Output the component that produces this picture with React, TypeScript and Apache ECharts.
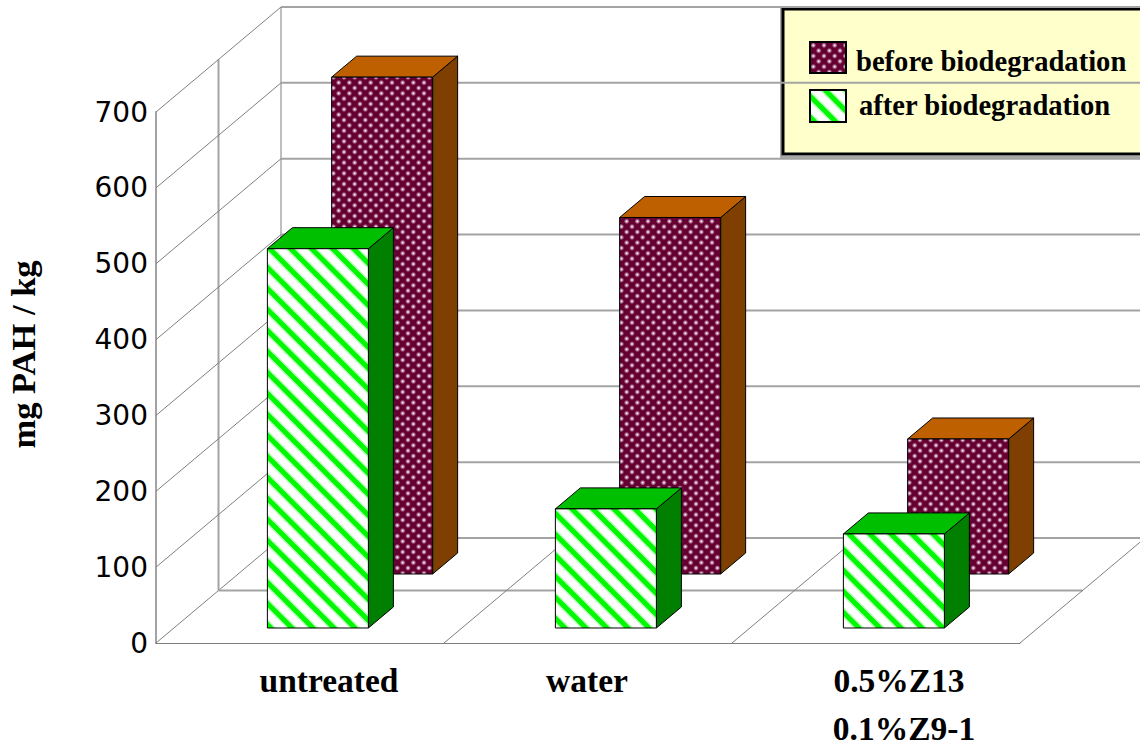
import React, { useEffect, useRef } from "react";
import * as echarts from "echarts";

const categories = ["untreated", "water", "0.5%Z13\n0.1%Z9-1"];
const beforeValues = [655, 470, 178];
const afterValues = [500, 157, 124];
const yTicks = [0, 100, 200, 300, 400, 500, 600, 700];
const seriesNames = ["before biodegradation", "after biodegradation"];

// Receding direction of the pseudo-3D box, in pixels for its full depth.
const DEPTH_X = 125;
const DEPTH_Y = 105;
const SIDE_X = 25;
const SIDE_Y = 21;
const BAR_WIDTH = 101;
const BEFORE_DEPTH = 0.657;
const AFTER_DEPTH = 0.143;
const PLOT_WIDTH = 864;
const CANVAS_WIDTH = 1140;

const FONT_SERIF = "'Liberation Serif', 'Times New Roman', serif";
const GRID_THICK = "#a3a3a3";
const GRID_THIN = "#7f7f7f";

function dottedTile() {
  const size = 32;
  const c = document.createElement("canvas");
  c.width = c.height = size;
  const ctx = c.getContext("2d")!;
  ctx.fillStyle = "#660033";
  ctx.fillRect(0, 0, size, size);
  const step = size / 6;
  for (let row = -1; row <= 6; row++) {
    for (let col = -1; col <= 6; col++) {
      if ((row + col) % 2 !== 0) continue;
      const x = col * step + step / 2;
      const y = row * step + step / 2;
      const g = ctx.createRadialGradient(x, y, 0.2, x, y, 2.7);
      g.addColorStop(0, "rgba(255,255,255,0.95)");
      g.addColorStop(0.45, "rgba(225,185,212,0.7)");
      g.addColorStop(1, "rgba(255,255,255,0)");
      ctx.fillStyle = g;
      ctx.fillRect(x - 3, y - 3, 6, 6);
    }
  }
  return { image: c, repeat: "repeat", imageWidth: size, imageHeight: size };
}

function stripedTile() {
  const size = 21;
  const c = document.createElement("canvas");
  c.width = c.height = size;
  const ctx = c.getContext("2d")!;
  ctx.fillStyle = "#ffffff";
  ctx.fillRect(0, 0, size, size);
  const stripe = (color: string, width: number) => {
    ctx.strokeStyle = color;
    ctx.lineWidth = width;
    // Each stroke overruns the tile so the diagonals join up across tile edges.
    for (let x0 = -size * 2; x0 <= size * 2; x0 += size) {
      ctx.beginPath();
      ctx.moveTo(x0 - size, -size);
      ctx.lineTo(x0 + size * 2, size * 2);
      ctx.stroke();
    }
  };
  stripe("#c4ffc4", 8);
  stripe("#00f800", 5);
  return { image: c, repeat: "repeat", imageWidth: size, imageHeight: size };
}

function barItem(
  api: any,
  depth: number,
  front: any,
  topColor: string,
  sideColor: string
) {
  const [cx, yTop] = api.coord([api.value(0), api.value(1)]);
  const yBase = api.coord([api.value(0), 0])[1];
  const left = cx + depth * DEPTH_X - BAR_WIDTH / 2;
  const right = left + BAR_WIDTH;
  const shift = depth * DEPTH_Y;
  const top = yTop - shift;
  const bottom = yBase - shift;
  const edge = { stroke: "#000000", lineWidth: 1 };
  return {
    type: "group",
    children: [
      {
        type: "polygon",
        shape: { points: [[right, top], [right + SIDE_X, top - SIDE_Y], [right + SIDE_X, bottom - SIDE_Y], [right, bottom]] },
        style: { fill: sideColor, ...edge },
      },
      {
        type: "polygon",
        shape: { points: [[left, top], [left + SIDE_X, top - SIDE_Y], [right + SIDE_X, top - SIDE_Y], [right, top]] },
        style: { fill: topColor, ...edge },
      },
      {
        type: "rect",
        shape: { x: left, y: top, width: BAR_WIDTH, height: bottom - top },
        style: { fill: front, ...edge },
      },
    ],
  };
}

function line(x1: number, y1: number, x2: number, y2: number, stroke: string, lineWidth: number) {
  return { type: "line", shape: { x1, y1, x2, y2 }, style: { stroke, lineWidth } };
}

// One tick draws its left-wall diagonal and back-wall rule; the first also draws the box frame.
function wallItem(params: any, api: any) {
  const [x0, y] = api.coord([0, api.value(0)]);
  const left = x0 - api.size([1, 0])[0] / 2;
  const children: any[] = [
    line(left, y, left + DEPTH_X, y - DEPTH_Y, GRID_THIN, 1),
    line(left + DEPTH_X, y - DEPTH_Y, CANVAS_WIDTH, y - DEPTH_Y, GRID_THICK, 2),
  ];
  if (params.dataIndex === 0) {
    const topY = api.coord([0, yTicks[yTicks.length - 1]])[1];
    const band = PLOT_WIDTH / categories.length;
    const midX = left + DEPTH_X / 2;
    const midY = y - DEPTH_Y / 2;
    children.push(line(left + DEPTH_X, y - DEPTH_Y, left + DEPTH_X, topY - DEPTH_Y, GRID_THIN, 1));
    children.push(line(midX, midY, midX, topY - DEPTH_Y / 2, GRID_THICK, 2));
    children.push(line(midX, midY, midX + PLOT_WIDTH, midY, GRID_THICK, 2));
    for (let i = 1; i <= categories.length; i++) {
      children.push(line(left + i * band, y, left + i * band + DEPTH_X, y - DEPTH_Y, GRID_THIN, 1));
    }
  }
  return { type: "group", children };
}

// Left padding of each category label line, which moves the centred text to the right.
const labelShift = [[58], [-2], [46, 56]];

export default function App() {
  const ref = useRef<HTMLDivElement>(null);

  useEffect(() => {
    document.body.style.margin = "0";
    const chart = echarts.init(ref.current!, null, { renderer: "svg" });
    const dots = dottedTile();
    const stripes = stripedTile();

    const richStyles: any = {};
    labelShift.forEach((pads, i) => {
      pads.forEach((pad, k) => {
        richStyles[`c${i}l${k}`] = {
          fontFamily: FONT_SERIF,
          fontWeight: "bold",
          fontSize: 33.5,
          // The second line gets a tight box so it stays inside the page.
          lineHeight: k === 0 ? 63 : 32,
          color: "#000000",
          padding: pad >= 0 ? [0, 0, 0, pad] : [0, -pad, 0, 0],
        };
      });
    });

    chart.setOption({
      animation: false,
      backgroundColor: "#ffffff",
      grid: { left: 156, top: 112, width: PLOT_WIDTH, height: 531, outerBoundsMode: "none" },
      xAxis: {
        type: "category",
        data: categories,
        axisLine: { show: true, lineStyle: { color: GRID_THIN, width: 1 } },
        axisTick: { show: false },
        splitLine: { show: false },
        axisLabel: {
          interval: 0,
          margin: 6,
          formatter: (value: string) => {
            const i = categories.indexOf(value);
            return value
              .split("\n")
              .map((t, k) => `{c${i}l${k}|${t}}`)
              .join("\n");
          },
          rich: richStyles,
        },
      },
      yAxis: {
        type: "value",
        min: 0,
        max: 700,
        interval: 100,
        name: "mg PAH / kg",
        nameLocation: "middle",
        nameRotate: 90,
        nameGap: 116,
        nameTextStyle: {
          fontFamily: FONT_SERIF,
          fontWeight: "bold",
          fontSize: 34.5,
          color: "#000000",
          padding: [0, 0, 0, 46],
        },
        axisLine: { show: true, lineStyle: { color: GRID_THICK, width: 2 } },
        axisTick: { show: false },
        splitLine: { show: false },
        axisLabel: { margin: 8, fontFamily: "'DejaVu Sans', sans-serif", fontSize: 28, color: "#000000" },
      },
      series: [
        {
          type: "custom",
          silent: true,
          data: yTicks.map((v) => [v]),
          encode: { y: 0 },
          renderItem: wallItem,
        },
        {
          type: "custom",
          name: seriesNames[0],
          silent: true,
          data: beforeValues.map((v, i) => [i, v]),
          encode: { x: 0, y: 1 },
          renderItem: (_p: any, api: any) => barItem(api, BEFORE_DEPTH, dots, "#bf6000", "#7f3f00"),
        },
        {
          type: "custom",
          name: seriesNames[1],
          silent: true,
          data: afterValues.map((v, i) => [i, v]),
          encode: { x: 0, y: 1 },
          renderItem: (_p: any, api: any) => barItem(api, AFTER_DEPTH, stripes, "#00bf00", "#007f00"),
        },
      ],
      graphic: [
        {
          type: "group",
          z: 100,
          children: [
            { type: "rect", shape: { x: 781, y: 7, width: 372, height: 150 }, style: { fill: "none", stroke: "#a8a8a8", lineWidth: 2 } },
            { type: "rect", shape: { x: 783, y: 9, width: 368, height: 145 }, style: { fill: "#ffffcc", stroke: "#000000", lineWidth: 3 } },
            { type: "rect", shape: { x: 810, y: 42, width: 36, height: 31 }, style: { fill: dots as any, stroke: "#000000", lineWidth: 2 } },
            { type: "rect", shape: { x: 810, y: 90, width: 36, height: 32 }, style: { fill: stripes as any, stroke: "#000000", lineWidth: 2 } },
            { type: "text", x: 856, y: 61, style: { text: seriesNames[0], fontFamily: FONT_SERIF, fontWeight: "bold", fontSize: 28.6, fill: "#000000", verticalAlign: "middle", align: "left" } },
            { type: "text", x: 859, y: 105, style: { text: seriesNames[1], fontFamily: FONT_SERIF, fontWeight: "bold", fontSize: 28.6, fill: "#000000", verticalAlign: "middle", align: "left" } },
          ],
        },
      ],
    });

    return () => chart.dispose();
  }, []);

  return <div ref={ref} style={{ width: 1140, height: 746, overflow: "hidden" }} />;
}
